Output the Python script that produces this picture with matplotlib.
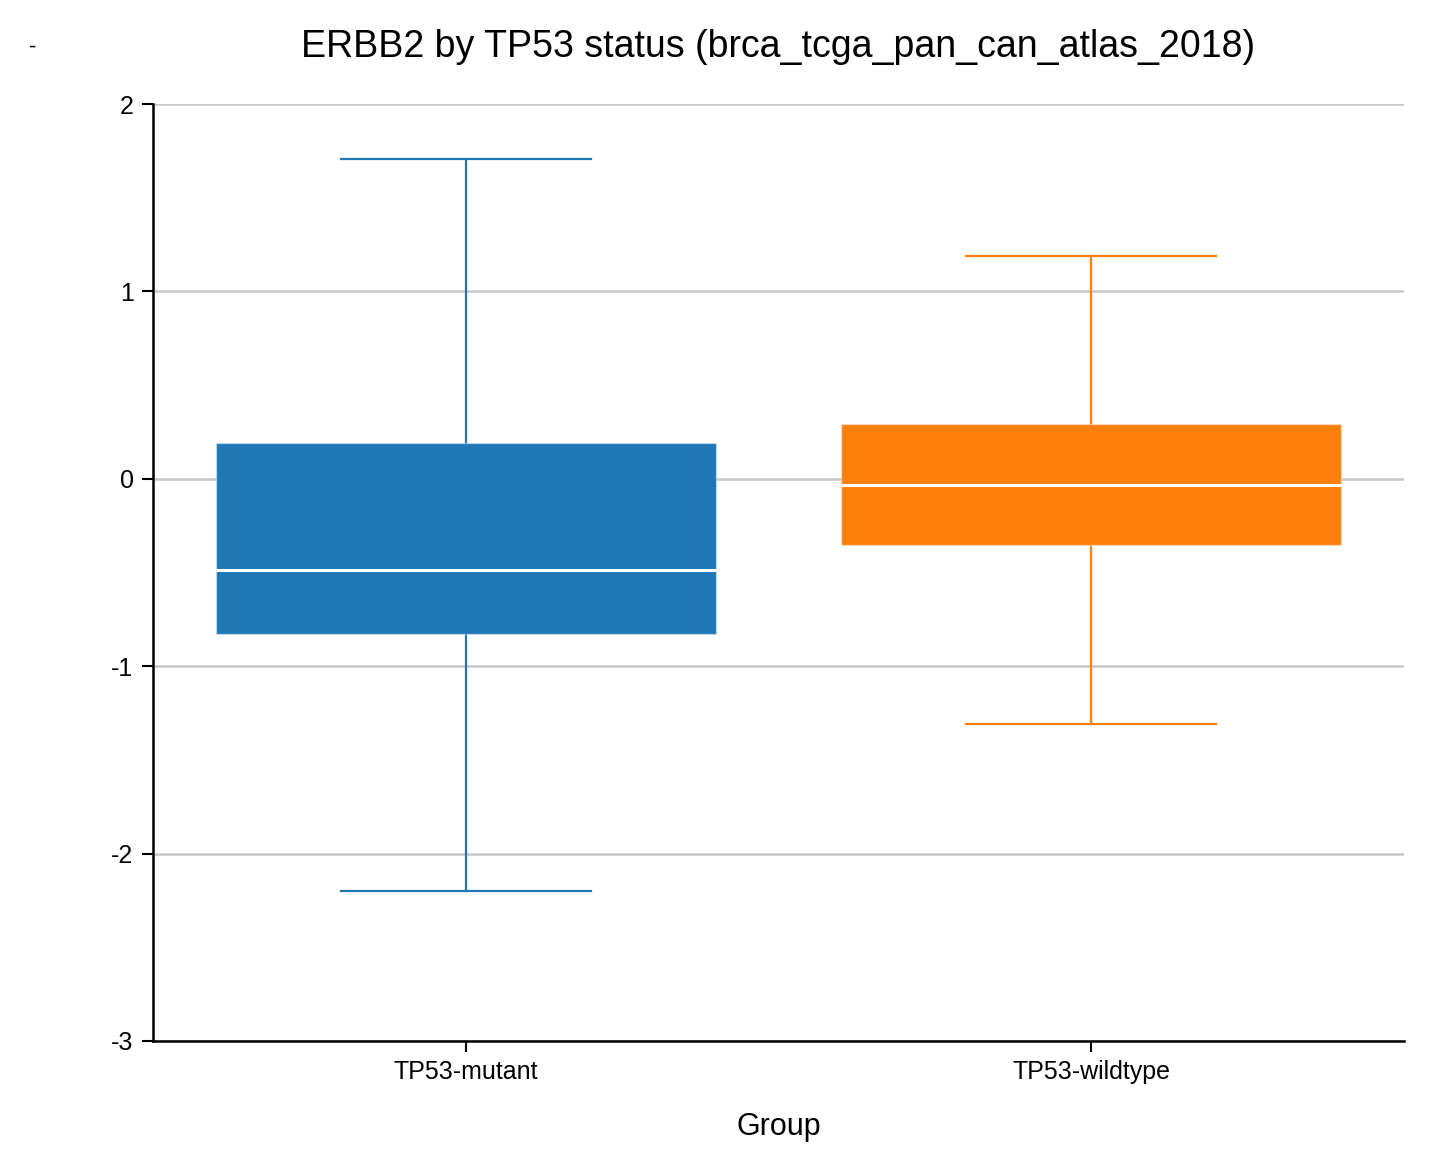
import matplotlib.pyplot as plt

plt.rcParams['font.family'] = ['Liberation Sans', 'DejaVu Sans']

groups = ['TP53-mutant', 'TP53-wildtype']
colors = ['#1f77b4', '#ff7f0e']
whisker_low = [-2.20, -1.31]
q1 = [-0.827, -0.352]
median = [-0.486, -0.032]
q3 = [0.192, 0.293]
whisker_high = [1.705, 1.19]

stats = []
for i, g in enumerate(groups):
    stats.append({'label': g, 'whislo': whisker_low[i], 'q1': q1[i],
                  'med': median[i], 'q3': q3[i], 'whishi': whisker_high[i],
                  'fliers': []})

fig = plt.figure(figsize=(14.34, 11.69), dpi=100)
ax = fig.add_axes([153 / 1434, 1 - 1041 / 1169, (1404 - 153) / 1434, (1041 - 104) / 1169])

bp = ax.bxp(stats, positions=range(len(groups)), widths=0.8, capwidths=0.4,
            patch_artist=True, showfliers=False,
            medianprops={'color': 'white', 'linewidth': 2.2},
            boxprops={'linewidth': 1.0})
for i, c in enumerate(colors):
    bp['boxes'][i].set_facecolor(c)
    bp['boxes'][i].set_edgecolor((1, 1, 1, 0.4))
    bp['boxes'][i].set_zorder(3)
    bp['medians'][i].set_zorder(4)
    for ln in bp['whiskers'][2 * i:2 * i + 2] + bp['caps'][2 * i:2 * i + 2]:
        ln.set_color(c)
        ln.set_linewidth(1.6)
        ln.set_zorder(2)

ax.set_xlim(-0.5, 1.5)
ax.set_ylim(-3, 2)
ax.set_yticks([-3, -2, -1, 0, 1, 2])
ax.set_yticklabels(['-3', '-2', '-1', '0', '1', '2'])
ax.set_xticks(range(len(groups)))
ax.set_xticklabels(groups)
ax.yaxis.grid(True, color='#c8c8c8', linewidth=1.8, zorder=0)
ax.set_axisbelow(True)

for s in ['top', 'right']:
    ax.spines[s].set_visible(False)
for s in ['left', 'bottom']:
    ax.spines[s].set_linewidth(1.8)
ax.tick_params(axis='both', direction='out', length=8, width=1.5, labelsize=18, pad=6)

ax.set_xlabel('Group', fontsize=22, labelpad=20)
ax.set_title('ERBB2 by TP53 status (brca_tcga_pan_can_atlas_2018)', fontsize=27, pad=34)
fig.text(33 / 1434, 1 - 47 / 1169, '-', fontsize=16, ha='center', va='center')

fig.savefig('out.png', dpi=100)
